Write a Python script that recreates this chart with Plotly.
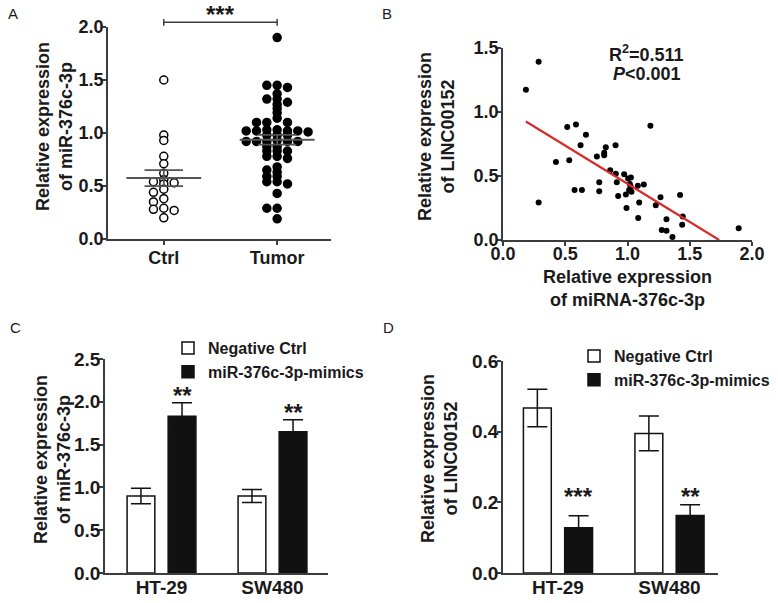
import numpy as np
import plotly.graph_objects as go

W, H = 778, 603
FONT = "Liberation Sans, Arial, sans-serif"
TXT = "#1a1a1a"
AXC = "#3c3c3c"

# ---------------- data ----------------
# Panel A: scatter dot plot
groups_a = ["Ctrl", "Tumor"]
ctrl_vals = [1.50, 0.98, 0.93, 0.78, 0.71, 0.62, 0.56, 0.52, 0.53, 0.54, 0.47,
             0.44, 0.38, 0.35, 0.28, 0.27, 0.29, 0.20]
tumor_vals = [1.90, 1.45, 1.45, 1.43, 1.37, 1.32, 1.32, 1.29, 1.27, 1.23, 1.19,
              1.14, 1.10, 1.10, 1.10, 1.02, 1.02, 1.03, 1.02, 1.01, 1.02, 1.03,
              0.98, 0.98, 0.98, 0.93, 0.92, 0.92, 0.92, 0.92, 0.92, 0.87, 0.87,
              0.83, 0.83, 0.83, 0.78, 0.78, 0.76, 0.68, 0.65, 0.63, 0.59, 0.59,
              0.54, 0.54, 0.52, 0.43, 0.29, 0.29, 0.19]
sig_a = "***"

# Panel B: correlation
b_x = [0.184, 0.286, 0.286, 0.425, 0.516, 0.586, 0.532, 0.575, 0.634, 0.623,
       0.666, 0.754, 0.813, 0.813, 0.826, 0.773, 0.773, 0.861, 0.904, 0.906,
       0.914, 0.925, 0.973, 0.987, 0.992, 1.005, 1.027, 1.019, 1.025, 1.013,
       1.032, 1.083, 1.131, 1.094, 1.086, 1.184, 1.227, 1.265, 1.275, 1.313,
       1.313, 1.361, 1.422, 1.444, 1.439, 1.893]
b_y = [1.174, 1.393, 0.292, 0.610, 0.882, 0.903, 0.624, 0.391, 0.391, 0.741,
       0.822, 0.652, 0.663, 0.681, 0.725, 0.451, 0.381, 0.545, 0.741, 0.517,
       0.451, 0.344, 0.514, 0.355, 0.250, 0.480, 0.488, 0.438, 0.417, 0.391,
       0.376, 0.423, 0.433, 0.292, 0.172, 0.892, 0.271, 0.334, 0.078, 0.162,
       0.073, 0.023, 0.352, 0.183, 0.120, 0.091]
fit_slope = -0.596
fit_intercept = 1.035
b_r2 = "0.511"
b_p = "0.001"

# Panels C and D: bar charts
cells = ["HT-29", "SW480"]
series_names = ["Negative Ctrl", "miR-376c-3p-mimics"]
c_neg = [0.90, 0.90]
c_neg_err = [0.09, 0.075]
c_mim = [1.83, 1.65]
c_mim_err = [0.16, 0.14]
c_sig = ["**", "**"]

d_neg = [0.467, 0.395]
d_neg_err = [0.053, 0.049]
d_mim = [0.128, 0.163]
d_mim_err = [0.034, 0.030]
d_sig = ["***", "**"]

# ---------------- layout helpers ----------------
def xdom(p0, p1):
    return [p0 / W, p1 / W]

def ydom(top, bottom):
    return [(H - bottom) / H, (H - top) / H]

AXBASE = dict(showline=True, linecolor=AXC, linewidth=1.5, ticks="outside",
              ticklen=4, tickwidth=1.5, tickcolor=AXC, showgrid=False,
              zeroline=False, mirror=False, automargin=False,
              tickfont=dict(family=FONT, size=18, color=TXT, weight="bold"))

def ax(**kw):
    d = dict(AXBASE)
    d.update(kw)
    return d

def swarm(vals, thresh):
    vals = np.asarray(vals, dtype=float)
    order = np.argsort(-vals, kind="stable")
    cand = [0]
    for k in range(1, 30):
        cand += [-k, k]
    slots = np.zeros(len(vals))
    placed = []
    for i in order:
        v = vals[i]
        for s in cand:
            if all(not (ps == s and abs(pv - v) < thresh) for ps, pv in placed):
                slots[i] = s
                placed.append((s, v))
                break
    return slots

fig = go.Figure()

# ---------------- Panel A ----------------
A_X = [-0.492, 1.475]
A_Y = [0, 2.0]
slot_w = 0.091
for gi, (vals, fill) in enumerate([(ctrl_vals, "white"), (tumor_vals, "black")]):
    sl = swarm(vals, 0.04)
    fig.add_trace(go.Scatter(
        x=gi + sl * slot_w, y=vals, mode="markers", xaxis="x", yaxis="y",
        marker=dict(size=8, color=fill, line=dict(color="black", width=1.5)),
        showlegend=False, cliponaxis=False, hoverinfo="skip"))
for gi, vals in enumerate([ctrl_vals, tumor_vals]):
    v = np.asarray(vals)
    m = v.mean()
    sem = v.std(ddof=1) / np.sqrt(len(v))
    fig.add_trace(go.Scatter(x=[gi - 0.33, gi + 0.33], y=[m, m], mode="lines",
                             xaxis="x", yaxis="y", line=dict(color="#555555", width=2),
                             showlegend=False, hoverinfo="skip"))
    for yy in (m - sem, m + sem):
        fig.add_trace(go.Scatter(x=[gi - 0.17, gi + 0.17], y=[yy, yy], mode="lines",
                                 xaxis="x", yaxis="y", line=dict(color="#555555", width=1.8),
                                 showlegend=False, hoverinfo="skip"))
    fig.add_trace(go.Scatter(x=[gi, gi], y=[m - sem, m + sem], mode="lines",
                             xaxis="x", yaxis="y", line=dict(color="#555555", width=1.8),
                             showlegend=False, hoverinfo="skip"))

# ---------------- Panel B ----------------
fig.add_trace(go.Scatter(x=b_x, y=b_y, mode="markers", xaxis="x2", yaxis="y2",
                         marker=dict(size=6, color="black"), showlegend=False,
                         cliponaxis=False, hoverinfo="skip"))
x_start = min(b_x)
x_end = -fit_intercept / fit_slope
fig.add_trace(go.Scatter(x=[x_start, x_end],
                         y=[fit_intercept + fit_slope * x_start, fit_intercept + fit_slope * x_end],
                         mode="lines", xaxis="x2", yaxis="y2",
                         line=dict(color="#d92a2a", width=2.2), showlegend=False,
                         hoverinfo="skip"))

# ---------------- Panels C and D ----------------
BAR_W = 0.25
OFF = [-0.31, 0.06]
for (neg, negerr, mim, mimerr, xa, ya, lg) in [
        (c_neg, c_neg_err, c_mim, c_mim_err, "x3", "y3", "legend"),
        (d_neg, d_neg_err, d_mim, d_mim_err, "x4", "y4", "legend2")]:
    for k, (vals, errs, fill) in enumerate([(neg, negerr, "white"), (mim, mimerr, "#111111")]):
        fig.add_trace(go.Bar(
            x=list(range(len(cells))), y=vals, width=BAR_W, offset=OFF[k],
            xaxis=xa, yaxis=ya, name=series_names[k], legend=lg,
            marker=dict(color=fill, line=dict(color="#111111", width=1.5)),
            error_y=dict(type="data", array=errs, visible=True, color="#111111",
                         thickness=1.5, width=10),
            hoverinfo="skip"))

annotations = []
shapes = []

def lab(text, px, py):
    annotations.append(dict(text=text, x=px / W, y=1 - py / H, xref="paper", yref="paper",
                            showarrow=False, xanchor="center", yanchor="middle",
                            font=dict(family=FONT, size=15, color=TXT)))

lab("A", 13, 13)
lab("B", 387, 13)
lab("C", 15, 327)
lab("D", 388, 327)

def ytitle(text, px, py, size=18):
    annotations.append(dict(text=text, x=px / W, y=1 - py / H, xref="paper", yref="paper",
                            showarrow=False, textangle=-90, xanchor="center", yanchor="middle",
                            font=dict(family=FONT, size=size, color=TXT, weight="bold")))

ytitle("Relative expression<br>of miR-376c-3p", 54, 127)
ytitle("Relative expression<br>of LINC00152", 437, 137)
ytitle("Relative expression<br>of miR-376c-3p", 52, 459)
ytitle("Relative expression<br>of LINC00152", 439, 459)
annotations.append(dict(text="Relative expression<br>of miRNA-376c-3p", x=627 / W, y=1 - 288.5 / H,
                        xref="paper", yref="paper", showarrow=False,
                        xanchor="center", yanchor="middle",
                        font=dict(family=FONT, size=18, color=TXT, weight="bold")))

# significance bracket in panel A (positions in y-domain fractions)
br_y, br_lo, br_hi = 1.022, 1.006, 1.038
def fx(v, r):
    return (v - r[0]) / (r[1] - r[0])
shapes.append(dict(type="line", xref="x domain", yref="y domain",
                   x0=fx(0, A_X), x1=fx(1, A_X), y0=br_y, y1=br_y,
                   line=dict(color=AXC, width=1.5)))
for g in (0, 1):
    shapes.append(dict(type="line", xref="x domain", yref="y domain",
                       x0=fx(g, A_X), x1=fx(g, A_X), y0=br_lo, y1=br_hi,
                       line=dict(color=AXC, width=1.5)))
annotations.append(dict(text=sig_a, x=fx(0.5, A_X), y=br_y, xref="x domain", yref="y domain",
                        showarrow=False, xanchor="center", yanchor="bottom", yshift=-8,
                        font=dict(family=FONT, size=24, color=TXT, weight="bold")))

# R2 / P text in panel B
annotations.append(dict(text="R<sup>2</sup>=" + b_r2, x=646 / W, y=1 - 53 / H, xref="paper",
                        yref="paper", showarrow=False, xanchor="center", yanchor="middle",
                        font=dict(family=FONT, size=18, color=TXT, weight="bold")))
annotations.append(dict(text="<i>P</i>&lt;" + b_p, x=647 / W, y=1 - 74 / H, xref="paper",
                        yref="paper", showarrow=False, xanchor="center", yanchor="middle",
                        font=dict(family=FONT, size=18, color=TXT, weight="bold")))

# significance stars C / D
for i in range(len(cells)):
    annotations.append(dict(text=c_sig[i], x=i + OFF[1] + BAR_W / 2, y=c_mim[i] + c_mim_err[i],
                            xref="x3", yref="y3", showarrow=False, xanchor="center",
                            yanchor="bottom", yshift=-8,
                            font=dict(family=FONT, size=24, color=TXT, weight="bold")))
    annotations.append(dict(text=d_sig[i], x=i + OFF[1] + BAR_W / 2, y=max(np.add(d_mim, d_mim_err)),
                            xref="x4", yref="y4", showarrow=False, xanchor="center",
                            yanchor="bottom", yshift=-7,
                            font=dict(family=FONT, size=24, color=TXT, weight="bold")))

XCD_FONT = dict(family=FONT, size=19, color=TXT, weight="bold")
fig.update_layout(
    width=W, height=H, margin=dict(l=0, r=0, t=0, b=0, autoexpand=False),
    paper_bgcolor="white", plot_bgcolor="white",
    font=dict(family=FONT, color=TXT),
    xaxis=ax(domain=xdom(108, 331), range=A_X, tickvals=[0, 1], ticktext=groups_a,
             anchor="y", ticklabelstandoff=-2),
    yaxis=ax(domain=ydom(27, 239), range=A_Y, tickvals=[0, 0.5, 1.0, 1.5, 2.0],
             tickformat=".1f", anchor="x", ticklabelstandoff=-5),
    xaxis2=ax(domain=xdom(503, 752), range=[0, 2.0], tickvals=[0, 0.5, 1.0, 1.5, 2.0],
              tickformat=".1f", anchor="y2", ticklabelstandoff=-7),
    yaxis2=ax(domain=ydom(48, 240), range=[0, 1.5], tickvals=[0, 0.5, 1.0, 1.5],
              tickformat=".1f", anchor="x2", ticklabelstandoff=-5),
    xaxis3=ax(domain=xdom(105, 328), range=[-0.509, 1.5], tickvals=[0, 1], ticktext=cells,
              anchor="y3", ticks="", tickfont=XCD_FONT, ticklabelstandoff=-4),
    yaxis3=ax(domain=ydom(359, 573), range=[0, 2.5], tickvals=[0, 0.5, 1.0, 1.5, 2.0, 2.5],
              tickformat=".1f", anchor="x3", tickfont=XCD_FONT, ticklabelstandoff=-5),
    xaxis4=ax(domain=xdom(503, 718), range=[-0.493, 1.435], tickvals=[0, 1], ticktext=cells,
              anchor="y4", ticks="", tickfont=XCD_FONT, ticklabelstandoff=-4),
    yaxis4=ax(domain=ydom(361, 573), range=[0, 0.6], tickvals=[0, 0.2, 0.4, 0.6],
              tickformat=".1f", anchor="x4", tickfont=XCD_FONT, ticklabelstandoff=-5),
    barmode="overlay",
    legend=dict(x=168 / W, y=1 - 331 / H, xanchor="left", yanchor="top",
                bgcolor="rgba(0,0,0,0)", font=dict(family=FONT, size=16, color=TXT, weight="bold"),
                tracegroupgap=0),
    legend2=dict(x=574 / W, y=1 - 339 / H, xanchor="left", yanchor="top",
                 bgcolor="rgba(0,0,0,0)", font=dict(family=FONT, size=16, color=TXT, weight="bold"),
                 tracegroupgap=0),
    annotations=annotations, shapes=shapes,
)

fig.write_html("out.html", config={"displayModeBar": False},
               post_script="document.body.style.margin='0px';document.body.style.padding='0px';")
